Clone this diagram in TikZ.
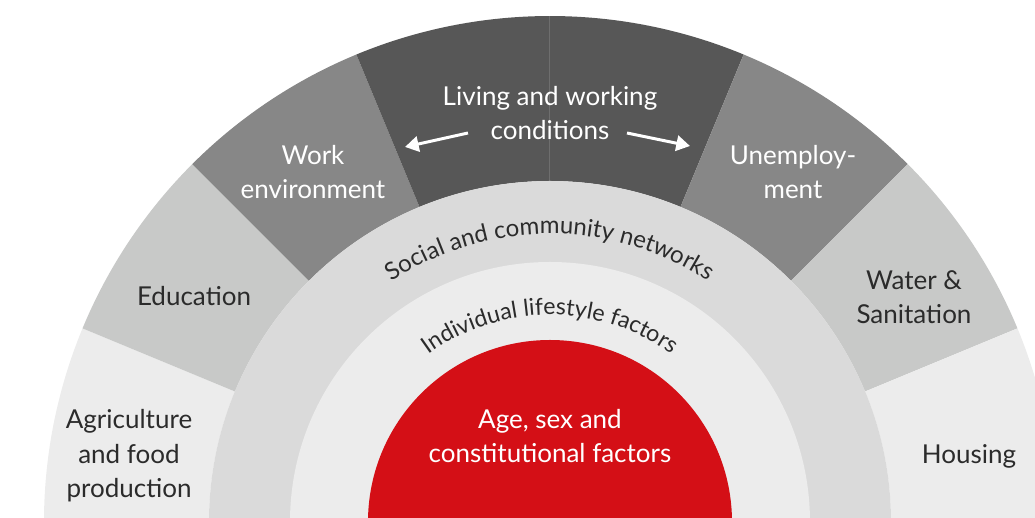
\documentclass[tikz,border=0pt]{standalone}
\usepackage{fontspec}
\setmainfont{Lato}
\usetikzlibrary{arrows.meta,decorations.text}
\definecolor{rbInk}{HTML}{2B2B2B}
\definecolor{rbRed}{HTML}{D40F16}
\definecolor{rbPale}{HTML}{ECECEC}
\definecolor{rbRing}{HTML}{DADADA}
\definecolor{rbSilver}{HTML}{C8C9C8}
\definecolor{rbGrey}{HTML}{878787}
\definecolor{rbDark}{HTML}{575757}
\definecolor{rbSeam}{HTML}{6E6E6E}
\tikzset{
  rb/label/.style={align=center, font=\fontsize{13}{17.2}\selectfont,
    text=rbInk, inner sep=0pt},
  rb/onDark/.style={rb/label, text=white},
  rb/arrow/.style={-{Triangle[length=2.4mm,width=2.7mm]}, draw=white,
    line width=1.5pt},
  rb/arcText/.style={decorate, decoration={text along path,
    text align=center, text color=rbInk}},
}
\begin{document}
\begin{tikzpicture}[x=0.5pt,y=0.5pt]
\useasboundingbox (-550,4) rectangle (485,522);
\clip (-550,4) rectangle (485,522);

% outer band of eight 22.5 degree sectors, radii in px
\foreach \a/\b/\col in {157.5/180/rbPale, 135/157.5/rbSilver,
    112.5/135/rbGrey, 67.5/112.5/rbDark, 45/67.5/rbGrey,
    22.5/45/rbSilver, 0/22.5/rbPale} {
  \fill[\col] (\a:341) arc (\a:\b:341) -- (\b:506) arc (\b:\a:506) -- cycle;
}
\draw[rbSeam, line width=0.5pt] (90:341) -- (90:506);

% inner rings
\fill[rbRing] (0:341) arc (0:180:341) -- cycle;
\fill[rbPale] (0:260) arc (0:180:260) -- cycle;
\fill[rbRed] (0:182) arc (0:180:182) -- cycle;

% sector labels
\node[rb/onDark] (living) at (0,409) {Living and working\\conditions};
\node[rb/onDark] (work) at (-237,350) {Work\\environment};
\node[rb/onDark] (unemp) at (243,350) {Unemploy-\\ment};
\node[rb/label] (edu) at (-356,226) {Education};
\node[rb/label] (water) at (364,225) {Water \&\\Sanitation};
\node[rb/label] (agri) at (-421,66) {Agriculture\\and food\\production};
\node[rb/label] (housing) at (419,66) {Housing};
\node[rb/onDark] (core) at (0,86) {Age, sex and\\constitutional factors};

\coordinate (livL) at (-82,389);
\coordinate (livLtip) at (-145,375);
\coordinate (livR) at (77,389);
\coordinate (livRtip) at (140,376);
\draw[rb/arrow] (livL) -- (livLtip);
\draw[rb/arrow] (livR) -- (livRtip);

% ring labels follow the arcs
\path[rb/arcText, decoration={text={|\fontsize{12}{14}\selectfont|Social and community networks}}]
  (160:288) arc (160:20:288);
\path[rb/arcText, decoration={text={|\fontsize{11.6}{14}\selectfont|Individual lifestyle factors}}]
  (160:207) arc (160:20:207);
\end{tikzpicture}
\end{document}
